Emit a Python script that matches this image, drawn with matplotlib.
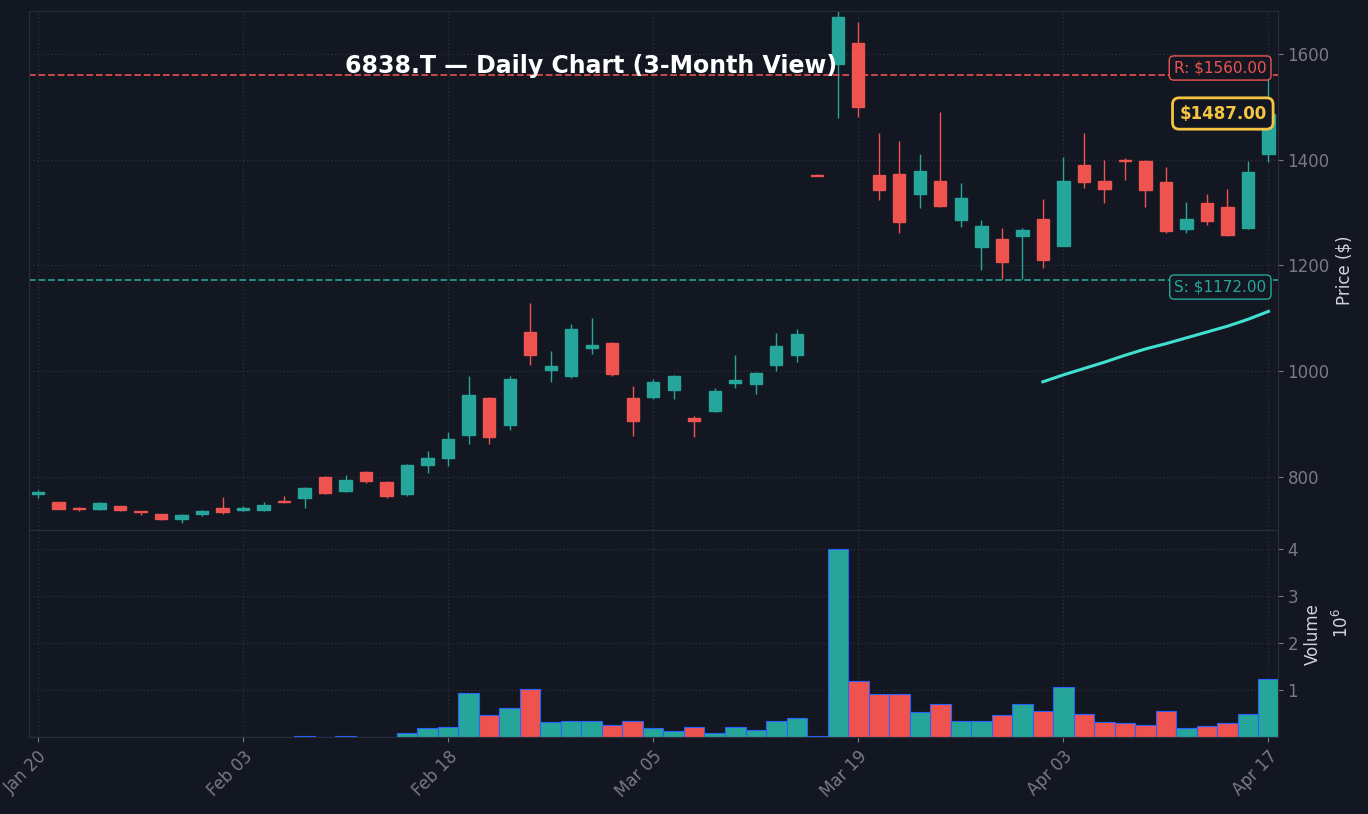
import matplotlib.pyplot as plt
import numpy as np

# daily OHLC, 6838.T
opens = [768, 752, 742, 740, 745, 735, 730, 720, 730, 742,
         738, 738, 755, 760, 800, 773, 810, 790, 767, 822,
         835, 880, 950, 898, 1075, 1003, 990, 1043, 1053, 950,
         952, 965, 912, 925, 978, 975, 1012, 1030, 1370, 1580,
         1620, 1370, 1373, 1335, 1360, 1285, 1235, 1250, 1255, 1288,
         1237, 1390, 1360, 1400, 1398, 1358, 1268, 1317, 1310, 1270,
         1410]
closes = [772, 740, 739, 750, 737, 733, 720, 728, 736, 733,
          741, 748, 752, 780, 770, 795, 793, 765, 823, 835,
          872, 955, 875, 985, 1030, 1010, 1080, 1050, 995, 905,
          980, 990, 905, 963, 983, 997, 1047, 1070, 1369, 1670,
          1500, 1342, 1282, 1378, 1313, 1327, 1275, 1207, 1267, 1210,
          1360, 1358, 1345, 1398, 1342, 1265, 1287, 1283, 1258, 1377,
          1487]
highs = [775, 753, 744, 752, 746, 736, 731, 731, 738, 762,
         745, 753, 765, 782, 801, 803, 811, 792, 825, 850,
         885, 990, 952, 990, 1128, 1038, 1090, 1100, 1055, 972,
         985, 992, 915, 968, 1030, 998, 1072, 1080, 1372, 1680,
         1660, 1450, 1435, 1410, 1490, 1355, 1285, 1270, 1270, 1325,
         1405, 1450, 1400, 1402, 1400, 1385, 1320, 1335, 1345, 1398,
         1560]
lows = [760, 739, 736, 738, 735, 729, 718, 713, 726, 731,
        736, 736, 750, 742, 767, 771, 789, 760, 765, 807,
        820, 862, 862, 888, 1012, 980, 988, 1032, 990, 878,
        948, 948, 875, 922, 968, 957, 1000, 1017, 1368, 1478,
        1480, 1323, 1262, 1308, 1310, 1273, 1192, 1175, 1175, 1195,
        1236, 1346, 1318, 1362, 1310, 1262, 1262, 1277, 1256, 1268,
        1395]
volumes = [0.01, 0.01, 0.01, 0.005, 0.005, 0.005, 0.005, 0.005, 0.005, 0.01,
           0.005, 0.005, 0.005, 0.03, 0.01, 0.03, 0.01, 0.01, 0.1, 0.2,
           0.22, 0.95, 0.48, 0.63, 1.03, 0.32, 0.35, 0.35, 0.27, 0.35,
           0.2, 0.13, 0.22, 0.1, 0.22, 0.15, 0.35, 0.42, 0.03, 4.0,
           1.2, 0.93, 0.93, 0.55, 0.7, 0.35, 0.35, 0.47, 0.7, 0.57,
           1.07, 0.5, 0.32, 0.3, 0.27, 0.57, 0.2, 0.25, 0.3, 0.5,
           1.23]
trend_start = 49
trend = [980, 993, 1005, 1017, 1030, 1042, 1052, 1063, 1074, 1085, 1098, 1113]
tick_labels = ['Jan 20', 'Feb 03', 'Feb 18', 'Mar 05', 'Mar 19', 'Apr 03', 'Apr 17']
resistance = 1560
support = 1172
last_price = 1487

BG = '#131722'
UP = '#26a69a'
DOWN = '#ef5350'
TXT = '#d1d4dc'
GRID = '#2a2e39'

fig = plt.figure(figsize=(13.68, 8.14), dpi=100, facecolor=BG)
ax = fig.add_axes([0.021, 0.349, 0.913, 0.637], facecolor=BG)
axv = fig.add_axes([0.021, 0.094, 0.913, 0.255], facecolor=BG, sharex=ax)

x = np.arange(len(opens))
colors = [UP if c >= o else DOWN for o, c in zip(opens, closes)]
for i in x:
    ax.vlines(i, lows[i], highs[i], color=colors[i], lw=1, zorder=2)
    lo, hi = min(opens[i], closes[i]), max(opens[i], closes[i])
    ax.bar(i, max(hi - lo, 1.5), bottom=lo, width=0.6, color=colors[i],
           edgecolor=colors[i], zorder=3)

ax.plot(np.arange(trend_start, trend_start + len(trend)), trend, color='#40e0d0', lw=2.2, zorder=4)

ax.axhline(resistance, color=DOWN, ls='--', lw=1.3, alpha=0.9)
ax.axhline(support, color=UP, ls='--', lw=1.3, alpha=0.9)
ax.text(59.9, resistance + 13, f'R: ${resistance:.2f}', color=DOWN, fontsize=11, ha='right', va='center',
        bbox=dict(boxstyle='round,pad=0.3', fc=BG, ec=DOWN))
ax.text(59.9, support - 13, f'S: ${support:.2f}', color=UP, fontsize=11, ha='right', va='center',
        bbox=dict(boxstyle='round,pad=0.3', fc=BG, ec=UP))
ax.text(59.9, last_price, f'${last_price:.2f}', color='#f5c542', fontsize=12, fontweight='bold',
        ha='right', va='center', bbox=dict(boxstyle='round,pad=0.4', fc=BG, ec='#f5c542', lw=2))
ax.text(0.45, 0.894, '6838.T — Daily Chart (3-Month View)', transform=ax.transAxes, color='white',
        fontsize=17, fontweight='bold', ha='center', va='center', zorder=5)

ax.set_ylim(700, 1680)
ax.set_xlim(-0.45, 60.45)
ax.yaxis.tick_right()
ax.yaxis.set_label_position('right')
ax.set_ylabel('Price ($)', color=TXT, fontsize=12)
ax.set_yticks([800, 1000, 1200, 1400, 1600])
ax.tick_params(axis='y', colors='#787b86', labelsize=12)
ax.tick_params(axis='x', labelbottom=False, length=0)

axv.set_axisbelow(True)
axv.bar(x, volumes, width=1.0, color=colors, edgecolor='#2962ff', lw=0.8, zorder=2)
axv.set_ylim(0, 4.4)
axv.yaxis.tick_right()
axv.yaxis.set_label_position('right')
axv.set_yticks([1, 2, 3, 4])
axv.set_ylabel('Volume', color=TXT, fontsize=12)
axv.text(1.043, 0.55, r'$10^6$', transform=axv.transAxes, color=TXT, fontsize=12, rotation=90, va='center')
axv.tick_params(axis='y', colors='#787b86', labelsize=12)
axv.set_xticks(np.arange(0, 61, 10))
axv.set_xticklabels(tick_labels, rotation=45, ha='right', rotation_mode='anchor')
axv.tick_params(axis='x', colors='#787b86', labelsize=12)

for a in (ax, axv):
    a.grid(True, color=GRID, ls=':', lw=1)
    for s in a.spines.values():
        s.set_color(GRID)

fig.savefig('out.png', facecolor=BG)
